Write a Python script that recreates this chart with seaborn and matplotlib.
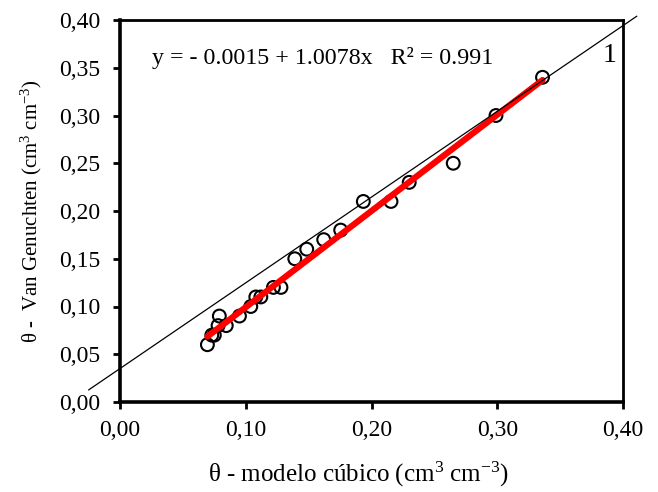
import matplotlib
matplotlib.use("Agg")
import matplotlib.pyplot as plt
import seaborn as sns
import numpy as np
import pandas as pd

# ---- data ----
theta_cubic = [0.0695, 0.073, 0.075, 0.078, 0.0845, 0.079, 0.095, 0.104, 0.108, 0.112,
               0.122, 0.128, 0.139, 0.1485, 0.162, 0.1755, 0.1935, 0.2155, 0.230,
               0.265, 0.299, 0.336]
theta_vg = [0.06, 0.07, 0.07, 0.08, 0.08, 0.09, 0.09, 0.10, 0.11, 0.11,
            0.12, 0.12, 0.15, 0.16, 0.17, 0.18, 0.21, 0.21, 0.23,
            0.25, 0.30, 0.34]
fit_intercept = -0.0015
fit_slope = 1.0078
ref_x = [-0.025, 0.411]
ref_y = [0.0126, 0.404]
ticks = [0.00, 0.05, 0.10, 0.15, 0.20, 0.25, 0.30, 0.35, 0.40]
xticks = [0.00, 0.10, 0.20, 0.30, 0.40]
equation_text = "y = - 0.0015 + 1.0078x   R² = 0.991"
line_label = "1"
xlabel = r"θ - modelo cúbico (cm$^{3}$ cm$^{-3}$)"
ylabel = r"θ -  Van Genuchten (cm$^{3}$ cm$^{-3}$)"

sns.set_theme(style="white")
plt.rcParams["font.family"] = ["Liberation Serif", "DejaVu Serif"]
plt.rcParams["mathtext.fontset"] = "custom"
plt.rcParams["mathtext.rm"] = "Liberation Serif"
plt.rcParams["mathtext.it"] = "Liberation Serif:italic"
plt.rcParams["mathtext.bf"] = "Liberation Serif:bold"

df = pd.DataFrame({"x": theta_cubic, "y": theta_vg})
fit_x = np.array([min(theta_cubic), max(theta_cubic)])
fit_df = pd.DataFrame({"x": fit_x, "y": fit_intercept + fit_slope * fit_x})
ref_df = pd.DataFrame({"x": ref_x, "y": ref_y})

fig = plt.figure(figsize=(6.58, 4.92), dpi=100)
ax = fig.add_axes([120/658, 1-402/492, 503/658, 382/492])

sns.scatterplot(data=df, x="x", y="y", ax=ax, marker="o", s=85,
                facecolor="none", edgecolor="black", linewidth=1.5, zorder=3)
sns.lineplot(data=fit_df, x="x", y="y", ax=ax, color="red", lw=4.5,
             sort=False, zorder=4)
sns.lineplot(data=ref_df, x="x", y="y", ax=ax, color="black", lw=0.9,
             sort=False, zorder=5)
ax.lines[-1].set_clip_on(False)

ax.set_xlim(0, 0.40)
ax.set_ylim(0, 0.40)
ax.set_xticks(xticks)
ax.set_xticklabels([f"{v:.2f}".replace(".", ",") for v in xticks], fontsize=17)
ax.set_yticks(ticks)
ax.set_yticklabels([f"{v:.2f}".replace(".", ",") for v in ticks], fontsize=17)
ax.tick_params(axis="both", direction="out", length=5, width=2, color="black",
               labelcolor="black", left=True, bottom=True)
ax.tick_params(axis="x", pad=8)
ax.tick_params(axis="y", pad=9)
for sp in ax.spines.values():
    sp.set_visible(True)
    sp.set_color("black")
    sp.set_linewidth(2)
ax.spines["left"].set_linewidth(2.6)
ax.spines["bottom"].set_linewidth(2.6)

ax.set_xlabel(xlabel, fontsize=18, color="black")
ax.xaxis.set_label_coords(0.473, -0.152)
ax.set_ylabel(ylabel, fontsize=15, color="black", labelpad=11)

ax.text(0.0636, 0.90, equation_text, transform=ax.transAxes, fontsize=17.3,
        ha="left", va="center", color="black")
ax.text(0.974, 0.908, line_label, transform=ax.transAxes, fontsize=20,
        ha="center", va="center", color="black")

fig.savefig("out.png", dpi=100)
